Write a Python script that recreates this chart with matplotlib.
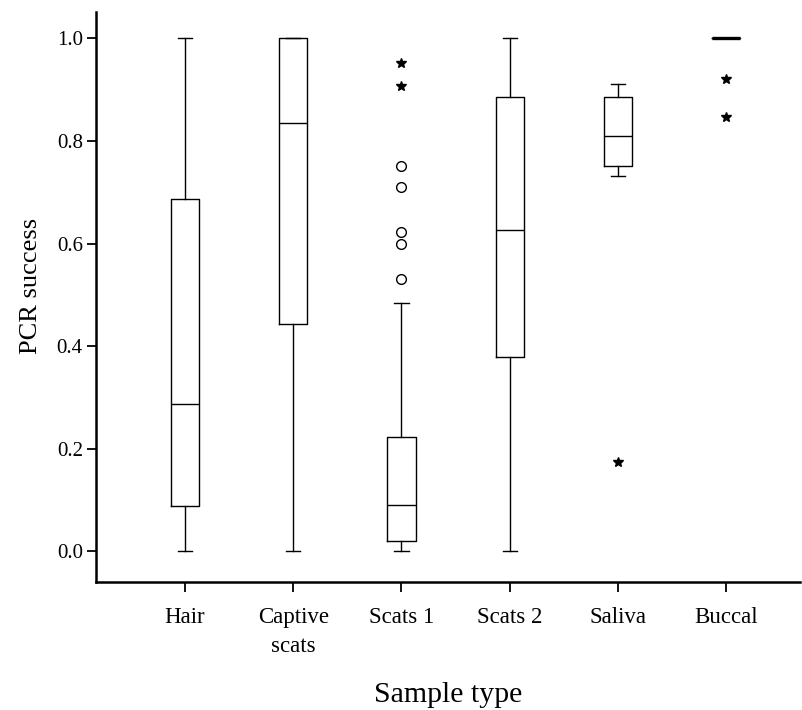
import matplotlib
matplotlib.use('Agg')
import matplotlib.pyplot as plt

plt.rcParams['font.family'] = ['Liberation Serif', 'DejaVu Serif']

# box summary values
labels = ['Hair', 'Captive\nscats', 'Scats 1', 'Scats 2', 'Saliva', 'Buccal']
whislo = [0.0, 0.0, 0.0, 0.0, 0.731, 1.0]
q1 = [0.088, 0.444, 0.021, 0.378, 0.752, 1.0]
med = [0.287, 0.834, 0.090, 0.626, 0.809, 1.0]
q3 = [0.686, 1.0, 0.222, 0.885, 0.885, 1.0]
whishi = [1.0, 1.0, 0.485, 1.0, 0.910, 1.0]

# outliers (circles) and extreme values (stars), by group
circle_groups = ['Scats 1'] * 5
circle_vals = [0.752, 0.710, 0.622, 0.599, 0.530]
star_groups = ['Scats 1', 'Scats 1', 'Saliva', 'Buccal', 'Buccal']
star_vals = [0.951, 0.906, 0.175, 0.920, 0.846]

stats = []
for i in range(len(labels)):
    stats.append({'label': labels[i], 'whislo': whislo[i], 'q1': q1[i],
                  'med': med[i], 'q3': q3[i], 'whishi': whishi[i]})

fig = plt.figure(figsize=(8.03, 7.10), dpi=100)
ax = fig.add_axes([0.1196, 0.180, 0.8764, 0.803])

positions = list(range(1, len(labels) + 1))
line = dict(color='black', linewidth=1.0)
res = ax.bxp(stats, positions=positions, widths=0.26, capwidths=0.13,
             showfliers=False, boxprops=line, whiskerprops=line,
             capprops=line, medianprops=line)
# all-equal box draws as a heavy bar
res['medians'][-1].set_linewidth(2.4)

pos_of = dict(zip(labels, positions))
ax.plot([pos_of[g] for g in circle_groups], circle_vals, 'o', ms=7,
        mfc='none', mec='black', mew=1.0, linestyle='none')
ax.plot([pos_of[g] for g in star_groups], star_vals, '*', ms=7.5,
        color='black', linestyle='none')

ax.set_xlim(0.178, 6.68)
ax.set_ylim(-0.060, 1.051)
ax.set_yticks([0.0, 0.2, 0.4, 0.6, 0.8, 1.0])
ax.set_yticklabels(['0.0', '0.2', '0.4', '0.6', '0.8', '1.0'])
ax.set_xticks(positions)
ax.set_xticklabels(labels, linespacing=1.5)

for s in ['top', 'right']:
    ax.spines[s].set_visible(False)
for s in ['left', 'bottom']:
    ax.spines[s].set_linewidth(1.8)

ax.tick_params(axis='y', length=6.5, width=1.3, labelsize=15, pad=3)
ax.tick_params(axis='x', length=7, width=1.3, labelsize=16.5, pad=11)

ax.set_ylabel('PCR success', fontsize=19)
ax.yaxis.set_label_coords(-0.077, 0.519)
ax.set_xlabel('Sample type', fontsize=21.5)
ax.xaxis.set_label_coords(0.5, -0.211)
ax.xaxis.label.set_va('baseline')

fig.savefig('out.png', dpi=100, facecolor='white')
